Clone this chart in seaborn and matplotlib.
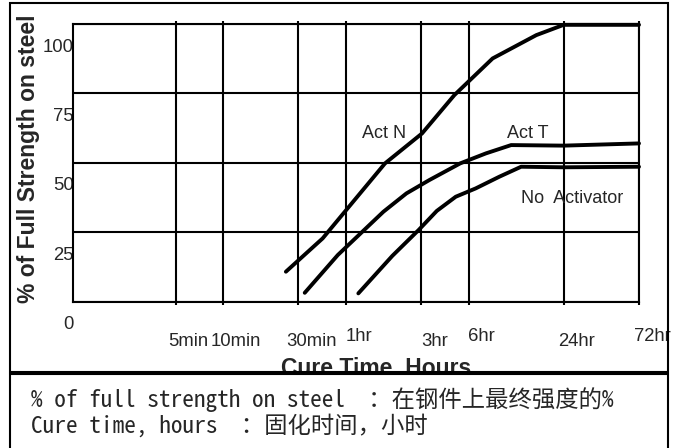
import numpy as np
import pandas as pd
import seaborn as sns
import matplotlib
matplotlib.use('Agg')
import matplotlib.pyplot as plt
from matplotlib.patches import Rectangle
from matplotlib.ticker import NullLocator
from matplotlib.transforms import ScaledTranslation

# cure time in hours -> % of full strength on steel
act_n_hours = [0.417, 0.713, 1.77, 3.04, 4.87, 8.51, 16.1, 24, 72]
act_n_strength = [10.8, 22.8, 49.8, 60.6, 74.4, 87.6, 96.0, 99.7, 99.7]

act_t_hours = [0.549, 0.889, 1.73, 2.42, 3.38, 5.30, 7.71, 11.15, 24, 72]
act_t_strength = [3.2, 16.8, 32.4, 39.0, 43.8, 49.8, 53.4, 56.4, 56.2, 57.0]

no_act_hours = [1.20, 1.97, 2.89, 3.77, 4.97, 6.65, 9.38, 12.9, 24, 72]
no_act_strength = [3.0, 16.5, 25.8, 32.7, 37.8, 40.8, 45.0, 48.6, 48.4, 48.6]

series_names = ['Act N', 'Act T', 'No  Activator']

time_ticks = [5 / 60, 10 / 60, 0.5, 1, 3, 6, 24, 72]
time_labels = ['5min', '10min', '30min', '1hr', '3hr', '6hr', '24hr', '72hr']
strength_ticks = [0, 25, 50, 75, 100]
strength_labels = ['0', '25', '50', '75', '100']

note_lines = ['% of full strength on steel  ：在钢件上最终强度的%',
              'Cure time, hours  ：固化时间，小时']


def strength_chart():
    frames = []
    for name, hrs, vals in zip(series_names,
                               [act_n_hours, act_t_hours, no_act_hours],
                               [act_n_strength, act_t_strength, no_act_strength]):
        frames.append(pd.DataFrame({'hours': hrs, 'strength': vals, 'series': name}))
    data = pd.concat(frames, ignore_index=True)

    sns.set_style('white')
    plt.rcParams['font.family'] = 'Liberation Sans'

    W, H = 682, 448
    fig = plt.figure(figsize=(W / 100, H / 100), dpi=100)
    ax = fig.add_axes([72.7 / W, 1 - 301.7 / H, 566.3 / W, 277.7 / H])

    sns.lineplot(data=data, x='hours', y='strength', hue='series',
                 palette={n: 'black' for n in series_names}, estimator=None,
                 sort=False, legend=False, linewidth=2.8, ax=ax)
    for line in ax.lines:
        line.set_clip_on(False)
        line.set_solid_capstyle('round')

    ax.set_xscale('log')
    ax.set_xlim(0.0186, 72)
    ax.set_ylim(0, 100)
    ax.set_xticks(time_ticks, time_labels)
    ax.xaxis.set_minor_locator(NullLocator())
    ax.set_yticks(strength_ticks, strength_labels)
    ax.grid(True, color='black', linewidth=1.5)
    for sp in ax.spines.values():
        sp.set_color('black')
        sp.set_linewidth(1.5)

    ax.tick_params(axis='x', which='major', direction='out', length=2.2, width=1.5,
                   color='black', top=True, bottom=True, labelsize=13.3, pad=20)
    ax.tick_params(axis='y', length=0, labelsize=13.3, pad=-0.8)

    # labels in the original sit a little off their gridlines
    lift = [0, 0, 0, 5, 0, 5, 0, 5]
    for lab, up in zip(ax.get_xticklabels(), lift):
        lab.set_transform(lab.get_transform() +
                          ScaledTranslation(0.13, up / 100, fig.dpi_scale_trans))
    for lab in ax.get_yticklabels():
        lab.set_transform(lab.get_transform() +
                          ScaledTranslation(0, -0.21, fig.dpi_scale_trans))

    ax.set_xlabel('Cure Time, Hours', fontsize=16.5, fontweight='bold')
    ax.xaxis.set_label_coords(0.536, -0.199)
    ax.set_ylabel('% of Full Strength on steel', fontsize=16.5, fontweight='bold')
    ax.yaxis.set_label_coords(-0.058, 0.514)

    ax.text(1.75, 58.8, series_names[0], ha='center', va='baseline', fontsize=13)
    ax.text(14.2, 58.8, series_names[1], ha='center', va='baseline', fontsize=13)
    ax.text(27.0, 35.4, series_names[2], ha='center', va='baseline', fontsize=13)

    # outer frames
    fig.add_artist(Rectangle((10 / W, 1 - 371.7 / H), 658 / W, 368.4 / H,
                             transform=fig.transFigure, fill=False,
                             edgecolor='black', linewidth=1.5, zorder=5))
    fig.add_artist(Rectangle((10 / W, -0.05), 658 / W, 0.05 + 1 - 374 / H,
                             transform=fig.transFigure, facecolor='white',
                             edgecolor='black', linewidth=1.5, zorder=5))

    fams = ['Noto Sans Mono CJK SC', 'DejaVu Sans Mono', 'Noto Sans CJK SC']
    for txt, base in zip(note_lines, [407, 433]):
        fig.text(31 / W, 1 - base / H, txt, fontsize=16.8, family=fams,
                 va='baseline', ha='left', zorder=6)

    fig.savefig('out.png', dpi=100)


if __name__ == '__main__':
    strength_chart()
